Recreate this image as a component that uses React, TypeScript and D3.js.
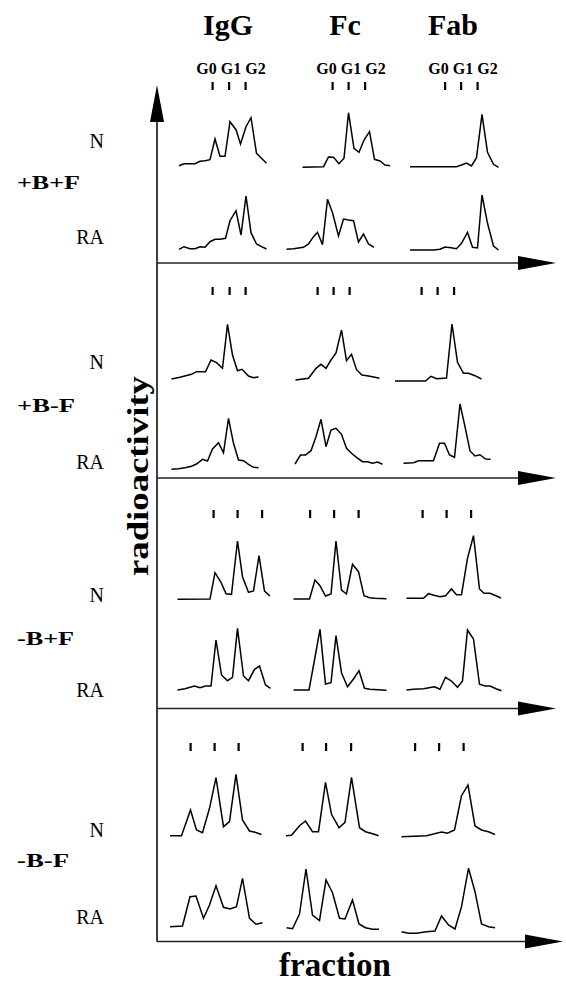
import * as d3 from "d3";

// Elution profiles: [fraction, relative radioactivity]
// +B+F
const iggPBPF_N = [[2.8,2.3],[3.8,4.3],[5,4.3],[6,4.3],[7,6.7],[8,7.3],[9,8.3],[10,29],[11,11.7],[12,11.7],[13,46.3],[14.2,38.3],[15.1,24],[16.2,41.3],[17.2,50.3],[18.3,14.7],[19.3,9.7],[20.3,4.7]];
const fcPBPF_N = [[3.9,0.7],[8.1,1.3],[9.1,11],[10.1,10.7],[11.2,4.3],[12.2,9.7],[13.1,55.3],[14.2,19.7],[15.2,15.7],[16.2,28],[17.3,36.3],[18.3,8.7],[19.4,7],[20.4,3],[21.4,2.3]];
const fabPBPF_N = [[3.4,1.3],[12.7,1.3],[13.7,3],[14.7,5],[15.7,2],[16.7,10.3],[17.8,53.7],[18.9,15.7],[20.1,3.7],[21.1,0.7]];
const iggPBPF_RA = [[2.8,1.7],[3.8,4.3],[5,2.3],[6,2.3],[7,4.3],[8,3.7],[9,9.3],[10,11.7],[11,11.7],[12.1,12.7],[13,30.3],[14.2,40.3],[15.2,16],[16.2,55],[17.2,18.3],[18.3,7],[19.3,4.3],[20.3,2]];
const fcPBPF_RA = [[0.7,1.7],[2.1,2.3],[4.1,3.7],[5.1,7],[6.1,14.3],[6.9,18.7],[7.9,6.3],[8.9,51.7],[9.9,38.3],[11.1,15],[12.1,32],[13.1,31],[14.1,30.3],[15.1,9],[16.1,17],[17.1,7],[18.2,3.7]];
const fabPBPF_RA = [[3.4,1],[8.1,1],[9.4,1.7],[10.4,4],[11.6,3.3],[12.7,2.3],[13.7,7.7],[14.9,18.7],[15.9,3.7],[16.9,3],[17.8,56],[18.9,27.7],[20.1,5],[21.1,1]];
// +B-F
const iggPBMF_N = [[1.3,3],[3,4.7],[5.3,7.7],[6.3,10.3],[8.1,10.3],[9.2,22],[10.3,19.3],[11.5,13.7],[12.5,57.7],[13.5,27],[14.5,11.3],[15.4,12.7],[16.7,6],[17.7,4.3],[18.7,5]];
const fcPBMF_N = [[2.5,2],[5.1,3.7],[6.6,13.7],[7.6,17.7],[8.6,13.7],[9.6,22],[10.6,29],[11.7,52],[12.7,21.3],[13.7,27.7],[14.7,12.3],[15.8,7],[17.1,6],[18.1,5],[19.3,3.7]];
const fabPBMF_N = [[0.4,1],[6.5,1],[7.6,5.7],[8.7,3.3],[10.7,4],[11.8,58],[12.9,19.7],[14.1,8.7],[15.1,8.7],[16.4,6.3],[17.7,3]];
const iggPBMF_RA = [[1.3,0.7],[2.7,1.3],[4,2.3],[5.3,3.7],[6.3,6],[7.5,10.7],[8.5,9],[9.5,21],[10.7,27.3],[11.7,17.3],[12.7,51.7],[13.7,26.7],[14.7,10],[15.7,9.3],[16.7,5.7],[17.7,2.7],[18.7,2.3]];
const fcPBMF_RA = [[2.4,6],[3.5,15],[4.5,15],[5.6,19.3],[6.6,33.3],[7.6,50.7],[8.6,23.3],[9.6,40],[10.6,41.7],[11.7,35.7],[12.7,21.7],[13.7,16.7],[14.7,12.7],[15.9,8.3],[16.9,8.3],[17.9,6.7],[18.9,8],[19.9,5.7]];
const fabPBMF_RA = [[2.1,6.7],[4.1,7.3],[5.1,9.3],[6.1,9.3],[8.1,9.3],[9.3,26.7],[10.3,26.7],[11.3,15],[12.3,12.7],[13.4,66],[14.4,43.3],[15.4,19],[16.4,14],[17.4,15.3],[18.5,11],[19.5,10.7]];
// -B+F
const iggMBPF_N = [[2.5,0.7],[9,1],[10,27.3],[11.2,17.7],[12.2,6.3],[13.3,5.7],[14.5,59],[15.5,23.3],[16.7,7.7],[17.7,9],[18.8,44.3],[19.9,9],[21,4]];
const fcMBPF_N = [[2.1,1],[5.3,1],[6.4,20],[7.4,14.3],[8.5,4],[9.6,6],[10.6,59],[11.7,10],[12.7,6],[13.9,35.7],[15.1,28.3],[16.2,4.3],[17.3,2.3],[18.4,1.7],[20.7,1.3]];
const fabMBPF_N = [[2.7,1.7],[6.1,1.7],[7.1,6.3],[8.2,4.7],[9.4,3.3],[10.5,4.3],[11.7,11],[12.7,5.3],[13.7,5.3],[14.9,41.7],[16.1,64.3],[17.3,11],[18.2,6.7],[19.4,6.7],[20.6,4.3],[21.6,2]];
const iggMBPF_RA = [[2.5,2],[4,3.3],[5.9,6],[7,4.3],[8.1,6],[9.2,6],[10.2,52],[11.3,17],[12.5,11.3],[13.5,14.7],[14.5,63.7],[15.7,16],[16.7,11.3],[17.9,22.7],[18.9,26],[20.1,7],[21.1,3.7]];
const fcMBPF_RA = [[2.1,2],[5.2,2],[6.3,32],[7.4,62.7],[8.5,8],[9.6,9.3],[10.6,56.3],[11.7,19.3],[12.9,5.3],[14.1,13],[15.2,21.3],[16.3,3.7],[17.4,2.7],[20.7,1.7]];
const fabMBPF_RA = [[2.7,2],[4.1,2.7],[6.1,3.3],[8.3,5.3],[9.4,2.7],[10.5,14.7],[11.7,11],[12.9,4.7],[13.9,11],[14.9,62],[16.1,53],[17.3,7.7],[18.4,6],[19.4,6],[20.6,3.3],[21.7,1.3]];
// -B-F
const iggMBMF_N = [[1,1.3],[3.3,1.3],[5.1,27],[6.3,7],[7.5,4.3],[8.9,28.7],[10.2,59.3],[11.7,10.3],[12.9,15.3],[14.2,62.7],[15.5,17],[16.9,6],[18,4.7],[19.3,2.5]];
const fcMBMF_N = [[0.6,1.3],[1.7,1.7],[3.3,11.3],[4.5,16],[5.9,5.3],[7.1,5.3],[8.5,54.7],[9.7,22.7],[11.2,9.3],[12.4,14.7],[13.7,59.7],[15.3,9.3],[16.5,5.3],[18.1,3],[19.1,1.3]];
const fabMBMF_N = [[1.7,0.3],[6.7,1.3],[9.7,5],[10.9,3.7],[12.3,7],[13.7,41.3],[15,52],[16.4,11],[17.7,7],[19.1,5.3],[20.4,2.5]];
const iggMBMF_RA = [[1,7.3],[3.5,8],[5,37.3],[6.2,38],[7.7,15.7],[8.9,29],[10.2,48.3],[11.7,26.7],[13,25],[14.3,27.3],[15.5,55.7],[16.9,15.7],[18.2,9.7],[19.5,11.3]];
const fcMBMF_RA = [[0.7,6.3],[1.9,5.3],[3.3,20],[4.6,65],[5.9,19],[7.3,13.3],[8.6,54],[9.9,41.3],[11.3,15.7],[12.4,15],[13.9,34],[15.2,10],[16.5,6.3],[17.9,4.7],[19.2,4.7]];
const fabMBMF_RA = [[1.7,2.3],[3.1,0.7],[4.7,0.7],[6.7,2.3],[8.4,3],[9.7,18],[11.1,9],[12.4,5],[13.7,27.3],[15.1,65.7],[16.4,42.3],[17.7,10],[19.1,7.3],[20.4,6.3]];

// G0 / G1 / G2 standard positions (fraction) per condition, per column
const markersPBPF = [[9.5, 12.8, 16.1], [9.9, 13.1, 16.4], [10.4, 13.6, 16.9]];
const markersPBMF = [[9.5, 12.9, 16.1], [6.9, 10.1, 13.3], [5.7, 8.9, 12.2]];
const markersMBPF = [[9.7, 14.5, 19.4], [5.4, 10.2, 15.1], [5.9, 10.7, 15.6]];
const markersMBMF = [[5.1, 9.9, 14.7], [3.9, 8.6, 13.6], [4.4, 9.2, 14.1]];

const columns = ["IgG", "Fc", "Fab"];
const conditions = ["+B+F", "+B-F", "-B+F", "-B-F"];
const samples = ["N", "RA"];

const traces = [
  [[iggPBPF_N, fcPBPF_N, fabPBPF_N], [iggPBPF_RA, fcPBPF_RA, fabPBPF_RA]],
  [[iggPBMF_N, fcPBMF_N, fabPBMF_N], [iggPBMF_RA, fcPBMF_RA, fabPBMF_RA]],
  [[iggMBPF_N, fcMBPF_N, fabMBPF_N], [iggMBPF_RA, fcMBPF_RA, fabMBPF_RA]],
  [[iggMBMF_N, fcMBMF_N, fabMBMF_N], [iggMBMF_RA, fcMBMF_RA, fabMBMF_RA]],
];
const markers = [markersPBPF, markersPBMF, markersMBPF, markersMBMF];

// layout
const W = 566;
const H = 986;
const FONT = "'Liberation Serif', 'Times New Roman', serif";
const AXIS_X = 157;
const colLeft = [165, 283, 393];
const groupAxisY = [263, 478, 708.5, 941.5];
const rowBase = [[168, 251], [382, 470], [600, 692], [837, 934]];
const markerTop = [82, 287, 510, 743];
const sampleY = [[141, 237], [362, 462], [595, 690], [830, 917]];
const conditionY = [182, 405, 638, 860];
const conditionLen = [63, 58, 57, 52];
const titleX = [228, 345, 453];
const gLabelX = [231, 351, 463];

const xScales = colLeft.map((l) => d3.scaleLinear().domain([0, 24]).range([l, l + 120]));
const yScale = (base: number) => d3.scaleLinear().domain([0, 60]).range([base, base - 60]);

function hArrow(y: number, tip: number) {
  return `M${tip},${y} L${tip - 38},${y - 7} L${tip - 38},${y + 7} Z`;
}

export default function App() {
  return (
    <svg
      width={W}
      height={H}
      viewBox={`0 0 ${W} ${H}`}
      style={{ position: "absolute", left: 0, top: 0, background: "#fff" }}
      fontFamily={FONT}
    >
      <rect width={W} height={H} fill="#fff" />

      {/* column titles */}
      {columns.map((c, i) => (
        <text key={c} x={titleX[i]} y={35} textAnchor="middle" fontSize={30} fontWeight="bold">
          {c}
        </text>
      ))}
      {columns.map((c, i) => (
        <text key={c + "g"} x={gLabelX[i]} y={74} textAnchor="middle" fontSize={16} fontWeight="bold">
          G0 G1 G2
        </text>
      ))}

      {/* axes */}
      <line x1={AXIS_X} x2={AXIS_X} y1={110} y2={groupAxisY[3]} stroke="#111" strokeWidth={1.6} />
      <path d={`M${AXIS_X},85 L${AXIS_X - 7},122 L${AXIS_X + 7},122 Z`} fill="#000" />
      {groupAxisY.map((y, g) => {
        const tip = g === 3 ? 563 : 556;
        return (
          <g key={"ax" + g}>
            <line x1={AXIS_X} x2={tip - 30} y1={y} y2={y} stroke="#222" strokeWidth={1.6} />
            <path d={hArrow(y, tip)} fill="#000" />
          </g>
        );
      })}

      {/* axis titles */}
      <text
        transform={`translate(148,${476}) rotate(-90)`}
        textAnchor="middle"
        fontSize={30}
        fontWeight="bold"
        textLength={200}
        lengthAdjust="spacingAndGlyphs"
      >
        radioactivity
      </text>
      <text x={335} y={976} textAnchor="middle" fontSize={33} fontWeight="bold">
        fraction
      </text>

      {conditions.map((cond, g) => (
        <g key={cond}>
          <text
            x={17}
            y={conditionY[g]}
            dominantBaseline="central"
            fontSize={19}
            fontWeight="bold"
            textLength={conditionLen[g]}
            lengthAdjust="spacingAndGlyphs"
          >
            {cond}
          </text>
          {samples.map((s, r) => (
            <text key={s} x={104} y={sampleY[g][r]} dominantBaseline="central" textAnchor="end" fontSize={20}>
              {s}
            </text>
          ))}

          {/* G0/G1/G2 markers */}
          {markers[g].map((ms, c) =>
            ms.map((m, k) => (
              <rect
                key={`${c}-${k}`}
                x={xScales[c](m) - 1}
                y={markerTop[g]}
                width={2.2}
                height={8}
                fill="#000"
              />
            ))
          )}

          {/* profiles */}
          {traces[g].map((row, r) => {
            const y = yScale(rowBase[g][r]);
            return row.map((pts, c) => {
              const line = d3
                .line<number[]>()
                .x((d) => xScales[c](d[0]))
                .y((d) => y(d[1]));
              return (
                <path
                  key={`${r}-${c}`}
                  d={line(pts) || ""}
                  fill="none"
                  stroke="#000"
                  strokeWidth={1.5}
                  strokeLinejoin="miter"
                />
              );
            });
          })}
        </g>
      ))}
    </svg>
  );
}
